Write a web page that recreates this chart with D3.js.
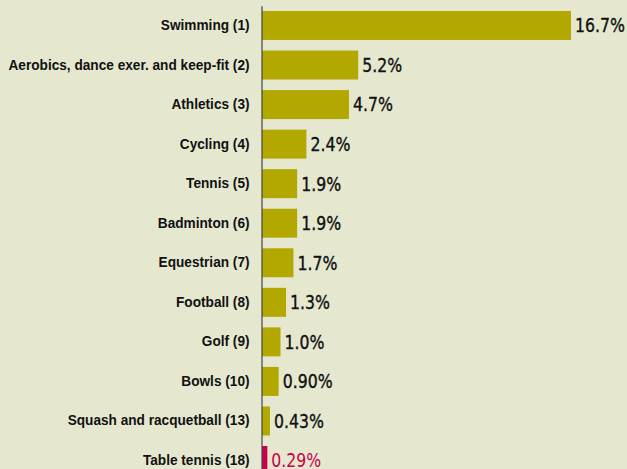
<!DOCTYPE html>
<html>
<head>
<meta charset="utf-8">
<script src="https://cdn.jsdelivr.net/npm/d3@7"></script>
<style>
  html, body { margin: 0; padding: 0; background: #e5e8cf; }
  svg { display: block; }
</style>
</head>
<body>
<div id="chart"></div>
<script>
const categories = [
  "Swimming (1)",
  "Aerobics, dance exer. and keep-fit (2)",
  "Athletics (3)",
  "Cycling (4)",
  "Tennis (5)",
  "Badminton (6)",
  "Equestrian (7)",
  "Football (8)",
  "Golf (9)",
  "Bowls (10)",
  "Squash and racquetball (13)",
  "Table tennis (18)"
];
const values = [16.7, 5.2, 4.7, 2.4, 1.9, 1.9, 1.7, 1.3, 1.0, 0.90, 0.43, 0.29];
const valueLabels = ["16.7%", "5.2%", "4.7%", "2.4%", "1.9%", "1.9%", "1.7%", "1.3%", "1.0%", "0.90%", "0.43%", "0.29%"];
const highlight = "Table tennis (18)";

const W = 627, H = 469;
const BG = "#e5e8cf", BAR = "#b3a800", RED = "#c8004e";

const svg = d3.select("#chart").append("svg")
  .attr("width", W).attr("height", H);
svg.append("rect").attr("width", W).attr("height", H).attr("fill", BG);

const data = categories.map((c, i) => ({ c, v: values[i], l: valueLabels[i] }));

const x = d3.scaleLinear().domain([0, 16.7]).range([262, 571]);
const y = d3.scaleBand().domain(categories)
  .range([5.7, 480.3]).paddingInner(0.267).paddingOuter(0.1335);

svg.selectAll("rect.bar").data(data).join("rect")
  .attr("class", "bar")
  .attr("x", x(0))
  .attr("y", d => y(d.c))
  .attr("width", d => x(d.v) - x(0))
  .attr("height", y.bandwidth())
  .attr("fill", d => d.c === highlight ? RED : BAR);

const vsx = 0.92;
svg.selectAll("text.val").data(data).join("text")
  .attr("class", "val")
  .attr("transform", d => `translate(${x(d.v) + 4},${y(d.c) + y.bandwidth() / 2}) scale(${vsx},1)`)
  .attr("dy", "0.36em")
  .attr("font-family", "'DejaVu Sans Condensed', 'DejaVu Sans', sans-serif")
  .attr("font-stretch", "condensed")
  .attr("font-size", 19)
  .attr("fill", d => d.c === highlight ? RED : "#111")
  .attr("stroke", d => d.c === highlight ? "none" : "#111")
  .attr("stroke-width", 0.35)
  .text(d => d.l);

const axis = d3.axisLeft(y).tickSize(0).tickSizeOuter(0).tickPadding(12);
const g = svg.append("g").attr("transform", "translate(261.5,0)").call(axis);
g.select(".domain").attr("stroke", "#444").attr("stroke-width", 1.2);
const sx = 0.975;
g.selectAll(".tick text")
  .attr("font-family", "'Liberation Sans', Arial, sans-serif")
  .attr("font-weight", "bold")
  .attr("font-size", 14)
  .attr("fill", "#111")
  .attr("x", -12 / sx)
  .attr("transform", `scale(${sx},1)`);
</script>
</body>
</html>
